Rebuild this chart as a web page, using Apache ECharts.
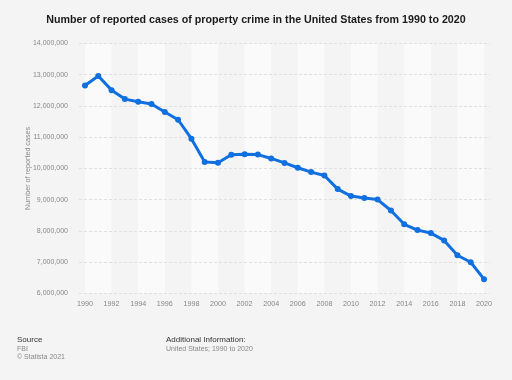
<!DOCTYPE html>
<html>
<head>
<meta charset="utf-8">
<script src="https://cdn.jsdelivr.net/npm/echarts@6/dist/echarts.min.js"></script>
<style>
html,body{margin:0;padding:0;background:#f4f4f4;}
#c{width:512px;height:380px;}
</style>
</head>
<body>
<div id="c"></div>
<script>
const years = [1990,1991,1992,1993,1994,1995,1996,1997,1998,1999,2000,2001,2002,2003,2004,2005,2006,2007,2008,2009,2010,2011,2012,2013,2014,2015,2016,2017,2018,2019,2020];
const cases = [12655000,12961000,12506000,12219000,12132000,12064000,11805000,11558000,10952000,10208000,10183000,10437000,10455000,10443000,10319000,10175000,10020000,9882000,9774000,9337000,9113000,9053000,9002000,8652000,8209000,8024000,7929000,7694000,7219000,6995000,6452000];
const xTicks = [1990,1992,1994,1996,1998,2000,2002,2004,2006,2008,2010,2012,2014,2016,2018,2020];
const yTicks = [6000000,7000000,8000000,9000000,10000000,11000000,12000000,13000000,14000000];

const fmt = v => v.toLocaleString('en-US');
// alternating light bands: 1990-1992, 1994-1996, ...
const bands = [];
for (let i = 0; i + 1 < xTicks.length; i += 2) bands.push([{xAxis:xTicks[i]},{xAxis:xTicks[i+1]}]);

const chart = echarts.init(document.getElementById('c'), null, {renderer:'canvas'});
const font = 'Arial, "Liberation Sans", sans-serif';
chart.setOption({
  backgroundColor:'#f4f4f4',
  animation:false,
  title:{
    text:'Number of reported cases of property crime in the United States from 1990 to 2020',
    left:'center', top:10,
    textStyle:{fontFamily:font,fontSize:10.7,fontWeight:'bold',color:'#1a1a1a'}
  },
  graphic:[
    {type:'text',left:17,top:336,style:{text:'Source',font:'8px '+font,fill:'#333'}},
    {type:'text',left:17,top:345.5,style:{text:'FBI',font:'7px '+font,fill:'#888'}},
    {type:'text',left:17,top:354,style:{text:'© Statista 2021',font:'7px '+font,fill:'#888'}},
    {type:'text',left:166,top:336,style:{text:'Additional Information:',font:'8px '+font,fill:'#333'}},
    {type:'text',left:166,top:345.5,style:{text:'United States; 1990 to 2020',font:'7px '+font,fill:'#888'}}
  ],
  grid:{left:79,right:22,top:43.5,bottom:86.7,containLabel:false},
  xAxis:{
    type:'value', min:1989.55, max:2020.45, z:0,
    axisLine:{show:false},
    axisTick:{show:false, customValues:xTicks},
    axisLabel:{customValues:xTicks, color:'#888', fontSize:7.2, fontFamily:font, margin:7, formatter:v=>String(v)},
    splitLine:{show:false},
    splitArea:{show:false}
  },
  yAxis:{
    type:'value', min:6000000, max:14000000, interval:1000000, z:2,
    name:'Number of reported cases', nameLocation:'middle', nameGap:47, nameMoveOverlap:false,
    nameTextStyle:{color:'#888',fontSize:7.2,fontFamily:font},
    axisLine:{show:false}, axisTick:{show:false},
    axisLabel:{color:'#888',fontSize:7,fontFamily:font,margin:11,formatter:v=>fmt(v)},
    splitLine:{show:true,lineStyle:{color:'#e0e0e0',type:[3,2],width:1}}
  },
  series:[{
    type:'line', z:3,
    data:years.map((y,i)=>[y,cases[i]]),
    lineStyle:{color:'#1170e0',width:3},
    itemStyle:{color:'#1170e0'},
    symbol:'circle', symbolSize:6, showAllSymbol:true,
    markArea:{silent:true, z:1, itemStyle:{color:'#fafafa'}, label:{show:false}, data:bands}
  }]
});
</script>
</body>
</html>
